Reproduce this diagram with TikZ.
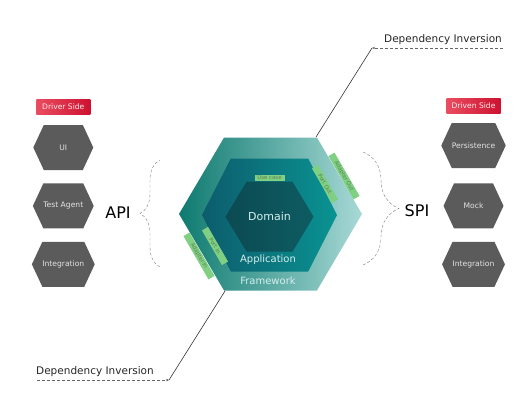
\documentclass[tikz,border=0pt]{standalone}
\usepackage{fontspec}
\setmainfont{DejaVu Sans}
\usepackage{xcolor}
\usetikzlibrary{shapes,arrows,positioning,calc,decorations.pathreplacing,arrows.meta}

\definecolor{hexgray}{HTML}{5B5B5B}
\definecolor{hextext}{HTML}{E4E4E4}
\definecolor{sideleft}{HTML}{EA4C60}
\definecolor{sideright}{HTML}{CC1230}
\definecolor{fwleft}{HTML}{0E7A70}
\definecolor{fwmid}{HTML}{04A19B}
\definecolor{fwright}{HTML}{A8D9D6}
\definecolor{appleft}{HTML}{0C5C6C}
\definecolor{appright}{HTML}{0A9392}
\definecolor{domleft}{HTML}{0C4A52}
\definecolor{domright}{HTML}{0D5C62}
\definecolor{layertext}{HTML}{D6EEEE}
\definecolor{taggreen}{HTML}{80D083}
\definecolor{tagtext}{HTML}{5F7D55}

\begin{document}
\begin{tikzpicture}[x=1pt, y=-1pt,
    hexnode/.style={signal, signal to=east and west, signal pointer angle=130, fill=hexgray, text=hextext, minimum width=60pt, minimum height=45pt, inner sep=0pt, font=\fontsize{7.6}{9}\selectfont},
    layer/.style={signal, signal to=east and west, signal pointer angle=120, inner sep=0pt, text=layertext},
    sidebox/.style={left color=sideleft, right color=sideright, text=white!92!red, minimum width=54pt, minimum height=15pt, inner sep=0pt, font=\fontsize{7.6}{9}\selectfont},
    tag/.style={fill=taggreen, text=tagtext, minimum height=7pt, inner sep=0.5pt, font=\fontsize{5.4}{6}\selectfont},
    bracestyle/.style={decorate, decoration={brace, amplitude=#1}, densely dashed, gray, thin}
]
    \useasboundingbox (0,0) rectangle (518,408);

    % the three layers
    \node [layer, minimum width=183pt, minimum height=153pt, signal pointer angle=119, left color=fwleft, middle color=fwmid, right color=fwright] (FW) at (270.5,214) {};
    \node [layer, minimum width=135pt, minimum height=113pt, signal pointer angle=126, left color=appleft, right color=appright] (APP) at (269.5,215) {};
    \node [layer, minimum width=88pt, minimum height=70pt, signal pointer angle=118, left color=domleft, right color=domright, font=\fontsize{11}{13}\selectfont] (DOM) at (269.5,216.7) {Domain};
    \node [text=layertext, font=\fontsize{10}{12}\selectfont] (APPlbl) at (268,260) {Application};
    \node [text=layertext, font=\fontsize{10}{12}\selectfont] (FWlbl) at (268,281) {Framework};

    % ports and adapters
    \node [tag, minimum width=30pt, minimum height=6pt] (UC) at (269.5,178) {Use case};
    \node [tag, rotate=-60, minimum width=40pt] (PO) at (325,184) {Port Out};
    \node [tag, rotate=-60, minimum width=50pt] (AO) at (344,176) {Adapter Out};
    \node [tag, rotate=-60, minimum width=40pt] (PI) at (215,246) {Port In};
    \node [tag, rotate=-60, minimum width=50pt] (AI) at (199,256) {Adapter In};

    % driver side
    \node [hexnode] (UI) at (63.3,147.5) {UI};
    \node [hexnode, below=13pt of UI] (TA) {Test Agent};
    \node [hexnode, below=13pt of TA] (INl) {Integration};
    \node [sidebox, above=10pt of UI] (DRV) {Driver Side};

    % driven side
    \node [hexnode] (PER) at (473.5,145.5) {Persistence};
    \node [hexnode, below=15pt of PER] (MOCK) {Mock};
    \node [hexnode, below=13pt of MOCK] (INr) {Integration};
    \node [sidebox, above=9.5pt of PER] (DRN) {Driven Side};

    % API / SPI
    \node [font=\fontsize{16}{18}\selectfont] (API) at (118,213) {API};
    \node [font=\fontsize{16}{18}\selectfont] (SPI) at (417,211) {SPI};
    \coordinate (apiB) at (160,267);
    \coordinate (apiT) at (160,160);
    \coordinate (spiT) at (363,152);
    \coordinate (spiB) at (363,265);
    \draw [bracestyle=20pt] (apiB) -- (apiT);
    \draw [bracestyle=36pt] (spiT) -- (spiB);

    % dependency inversion
    \node [font=\fontsize{10.5}{12}\selectfont, text=black!85] (DIout) at (443,40) {Dependency Inversion};
    \node [font=\fontsize{10.5}{12}\selectfont, text=black!85] (DIin) at (95,372) {Dependency Inversion};
    \coordinate (diTopStart) at (503,48);
    \coordinate (diTop) at (372,48);
    \coordinate (FWne) at (316,137);
    \coordinate (diBotStart) at (37,380);
    \coordinate (diBot) at (169,380);
    \coordinate (FWsw) at (225,291);
    \draw [densely dashed, gray!80!black, thin, -{Stealth[length=3pt,width=2.5pt]}] (diTopStart) -- (diTop);
    \draw [black!80, semithick] (diTop) -- (FWne);
    \draw [densely dashed, gray!80!black, thin, -{Stealth[length=3pt,width=2.5pt]}] (diBotStart) -- (diBot);
    \draw [black!80, semithick] (diBot) -- (FWsw);
\end{tikzpicture}
\end{document}
